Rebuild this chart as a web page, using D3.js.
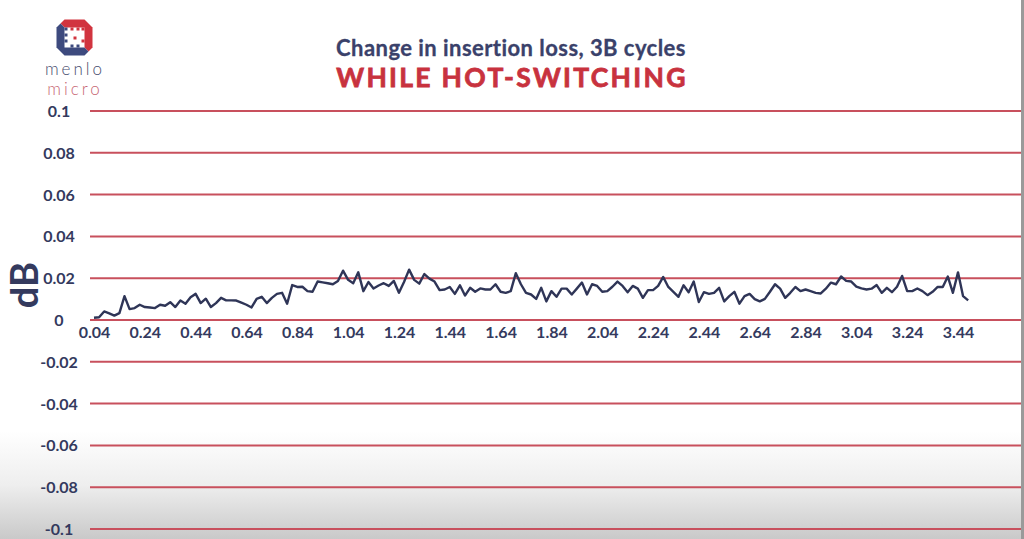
<!DOCTYPE html>
<html>
<head>
<meta charset="utf-8">
<script src="https://cdn.jsdelivr.net/npm/d3@7"></script>
<style>
  body { margin: 0; background: #fff; }
  svg { display: block; font-family: Lato, "Open Sans", sans-serif; }
</style>
</head>
<body>
<svg id="chart" width="1024" height="539"></svg>
<script>
// cycles in billions, one sample every 0.02B starting at 0.04B
var firstCycle = 0.04;
var cycleStep = 0.02;

// change in insertion loss (dB)
var lossDelta = [
  0.0011, 0.0013, 0.0041, 0.0032, 0.0021, 0.0033, 0.0114, 0.0052, 0.0057, 0.0073,
  0.0062, 0.0060, 0.0057, 0.0073, 0.0068, 0.0085, 0.0062, 0.0093, 0.0078, 0.0109,
  0.0125, 0.0081, 0.0102, 0.0062, 0.0081, 0.0106, 0.0094, 0.0094, 0.0093, 0.0083,
  0.0073, 0.0060, 0.0101, 0.0111, 0.0081, 0.0106, 0.0125, 0.0130, 0.0078, 0.0167,
  0.0158, 0.0159, 0.0138, 0.0135, 0.0184, 0.0180, 0.0176, 0.0171, 0.0187, 0.0236,
  0.0192, 0.0176, 0.0228, 0.0138, 0.0182, 0.0151, 0.0165, 0.0176, 0.0163, 0.0187,
  0.0130, 0.0182, 0.0241, 0.0192, 0.0174, 0.0220, 0.0198, 0.0184, 0.0143, 0.0146,
  0.0158, 0.0125, 0.0166, 0.0117, 0.0154, 0.0135, 0.0151, 0.0146, 0.0146, 0.0171,
  0.0135, 0.0130, 0.0138, 0.0224, 0.0171, 0.0130, 0.0122, 0.0101, 0.0154, 0.0089,
  0.0138, 0.0111, 0.0150, 0.0150, 0.0122, 0.0150, 0.0179, 0.0122, 0.0171, 0.0163,
  0.0135, 0.0138, 0.0159, 0.0184, 0.0163, 0.0133, 0.0163, 0.0150, 0.0106, 0.0143,
  0.0143, 0.0163, 0.0206, 0.0158, 0.0135, 0.0111, 0.0166, 0.0133, 0.0184, 0.0086,
  0.0133, 0.0125, 0.0130, 0.0154, 0.0089, 0.0114, 0.0135, 0.0078, 0.0114, 0.0125,
  0.0100, 0.0089, 0.0101, 0.0135, 0.0171, 0.0150, 0.0106, 0.0130, 0.0158, 0.0138,
  0.0146, 0.0138, 0.0130, 0.0127, 0.0150, 0.0179, 0.0171, 0.0208, 0.0187, 0.0184,
  0.0160, 0.0151, 0.0146, 0.0150, 0.0167, 0.0130, 0.0154, 0.0133, 0.0159, 0.0211,
  0.0138, 0.0138, 0.0151, 0.0138, 0.0119, 0.0135, 0.0158, 0.0158, 0.0208, 0.0130,
  0.0228, 0.0114, 0.0094
];

var xTickLabels = ["0.04", "0.24", "0.44", "0.64", "0.84", "1.04", "1.24", "1.44", "1.64",
                   "1.84", "2.04", "2.24", "2.44", "2.64", "2.84", "3.04", "3.24", "3.44"];
var yTickLabels = ["0.1", "0.08", "0.06", "0.04", "0.02", "0", "-0.02", "-0.04", "-0.06", "-0.08", "-0.1"];

var titleLine1 = "Change in insertion loss, 3B cycles";
var titleLine2 = "WHILE HOT-SWITCHING";

var navy = "#343a5e";
var gridRed = "#c8505d";

var svg = d3.select("#chart");

// grey shading along the bottom edge
var defs = svg.append("defs");
var shade = defs.append("linearGradient").attr("id", "shade")
  .attr("gradientUnits", "userSpaceOnUse")
  .attr("x1", 0).attr("y1", 0).attr("x2", 0).attr("y2", 539);
shade.append("stop").attr("offset", "0.8").attr("stop-color", "#ffffff");
shade.append("stop").attr("offset", "0.9").attr("stop-color", "#eeeeee");
shade.append("stop").attr("offset", "1").attr("stop-color", "#c9c9c9");
svg.append("rect").attr("width", 1024).attr("height", 539).attr("fill", "url(#shade)");
svg.append("rect").attr("x", 1021).attr("width", 3).attr("height", 539).attr("fill", "#9a9a9a");

var x = d3.scaleLinear().domain([0.04, 3.44]).range([94, 958]);
var y = d3.scaleLinear().domain([-0.1, 0.1]).range([529, 111]);

var points = lossDelta.map(function(v, i){
  return { c: firstCycle + i * cycleStep, v: v };
});

// horizontal grid
svg.append("g").selectAll("line")
  .data(yTickLabels)
  .enter().append("line")
  .attr("x1", 90).attr("x2", 1021)
  .attr("y1", function(d){ return y(+d); })
  .attr("y2", function(d){ return y(+d); })
  .attr("stroke", gridRed)
  .attr("stroke-width", 2);

// y labels
svg.append("g").selectAll("text")
  .data(yTickLabels)
  .enter().append("text")
  .attr("x", 59)
  .attr("y", function(d){ return y(+d) + 6; })
  .attr("text-anchor", "middle")
  .attr("font-size", 16)
  .attr("font-weight", 700)
  .attr("fill", navy)
  .text(function(d){ return d; });

// x axis labels under the zero line
var xAxis = d3.axisBottom(x)
  .tickValues(xTickLabels.map(Number))
  .tickFormat(function(d, i){ return xTickLabels[i]; })
  .tickSize(0)
  .tickPadding(0);
var gx = svg.append("g").attr("transform", "translate(0," + (y(0) + 7) + ")").call(xAxis);
gx.select(".domain").remove();
gx.selectAll("text")
  .attr("font-family", "Lato, sans-serif")
  .attr("font-size", 16)
  .attr("font-weight", 700)
  .attr("fill", navy);

// data line
var line = d3.line()
  .x(function(d){ return x(d.c); })
  .y(function(d){ return y(d.v); });
svg.append("path")
  .datum(points)
  .attr("d", line)
  .attr("fill", "none")
  .attr("stroke", "#2f3557")
  .attr("stroke-width", 2.4)
  .attr("stroke-linejoin", "round");

// axis title
svg.append("text")
  .attr("transform", "translate(38,285) rotate(-90)")
  .attr("text-anchor", "middle")
  .attr("font-size", 38)
  .attr("font-weight", 700)
  .attr("fill", navy)
  .text("dB");

// titles
svg.append("text")
  .attr("x", 511).attr("y", 56)
  .attr("text-anchor", "middle")
  .attr("font-size", 22)
  .attr("font-weight", 700)
  .attr("letter-spacing", 0.45)
  .attr("fill", "#3a416a")
  .attr("stroke", "#3a416a")
  .attr("stroke-width", 0.3)
  .text(titleLine1);
svg.append("text")
  .attr("x", 512).attr("y", 87)
  .attr("text-anchor", "middle")
  .attr("font-size", 26.5)
  .attr("font-weight", 700)
  .attr("letter-spacing", 2.3)
  .attr("fill", "#c8323e")
  .attr("stroke", "#c8323e")
  .attr("stroke-width", 0.8)
  .text(titleLine2);

// logo
var logo = svg.append("g").attr("transform", "translate(74.5,37.5)");
var oct = "M-10,-18L10,-18L18,-10L18,10L10,18L-10,18L-18,10L-18,-10Z";
defs.append("clipPath").attr("id", "topRight").append("path").attr("d", "M-19,-19L19,-19L19,19Z");
defs.append("clipPath").attr("id", "botLeft").append("path").attr("d", "M-19,-19L19,19L-19,19Z");
logo.append("path").attr("d", oct).attr("fill", "#d1343f").attr("clip-path", "url(#topRight)");
logo.append("path").attr("d", oct).attr("fill", "#3d4a7e").attr("clip-path", "url(#botLeft)");
logo.append("rect").attr("x", -10).attr("y", -10).attr("width", 20).attr("height", 20).attr("fill", "#fff");
var pix = [[-10,-10,"#3d4a7e"],[-4,-10,"#d1343f"],[2,-10,"#d1343f"],[7,-10,"#d1343f"],[-10,-4,"#3d4a7e"],
           [7,2,"#d1343f"],[-10,2,"#3d4a7e"],[-4,7,"#3d4a7e"],[2,7,"#3d4a7e"],[-1,-1,"#d1343f"]];
logo.selectAll(".px").data(pix).enter().append("rect")
  .attr("x", function(d){ return d[0]; }).attr("y", function(d){ return d[1]; })
  .attr("width", 3).attr("height", 3)
  .attr("fill", function(d){ return d[2]; });
svg.append("text").attr("x", 75).attr("y", 75).attr("text-anchor", "middle")
  .attr("font-size", 17).attr("font-weight", 300).attr("letter-spacing", 3)
  .attr("fill", "#474d6e").text("menlo");
svg.append("text").attr("x", 75).attr("y", 95).attr("text-anchor", "middle")
  .attr("font-size", 17).attr("font-weight", 300).attr("letter-spacing", 3)
  .attr("fill", "#c76673").text("micro");
</script>
</body>
</html>
